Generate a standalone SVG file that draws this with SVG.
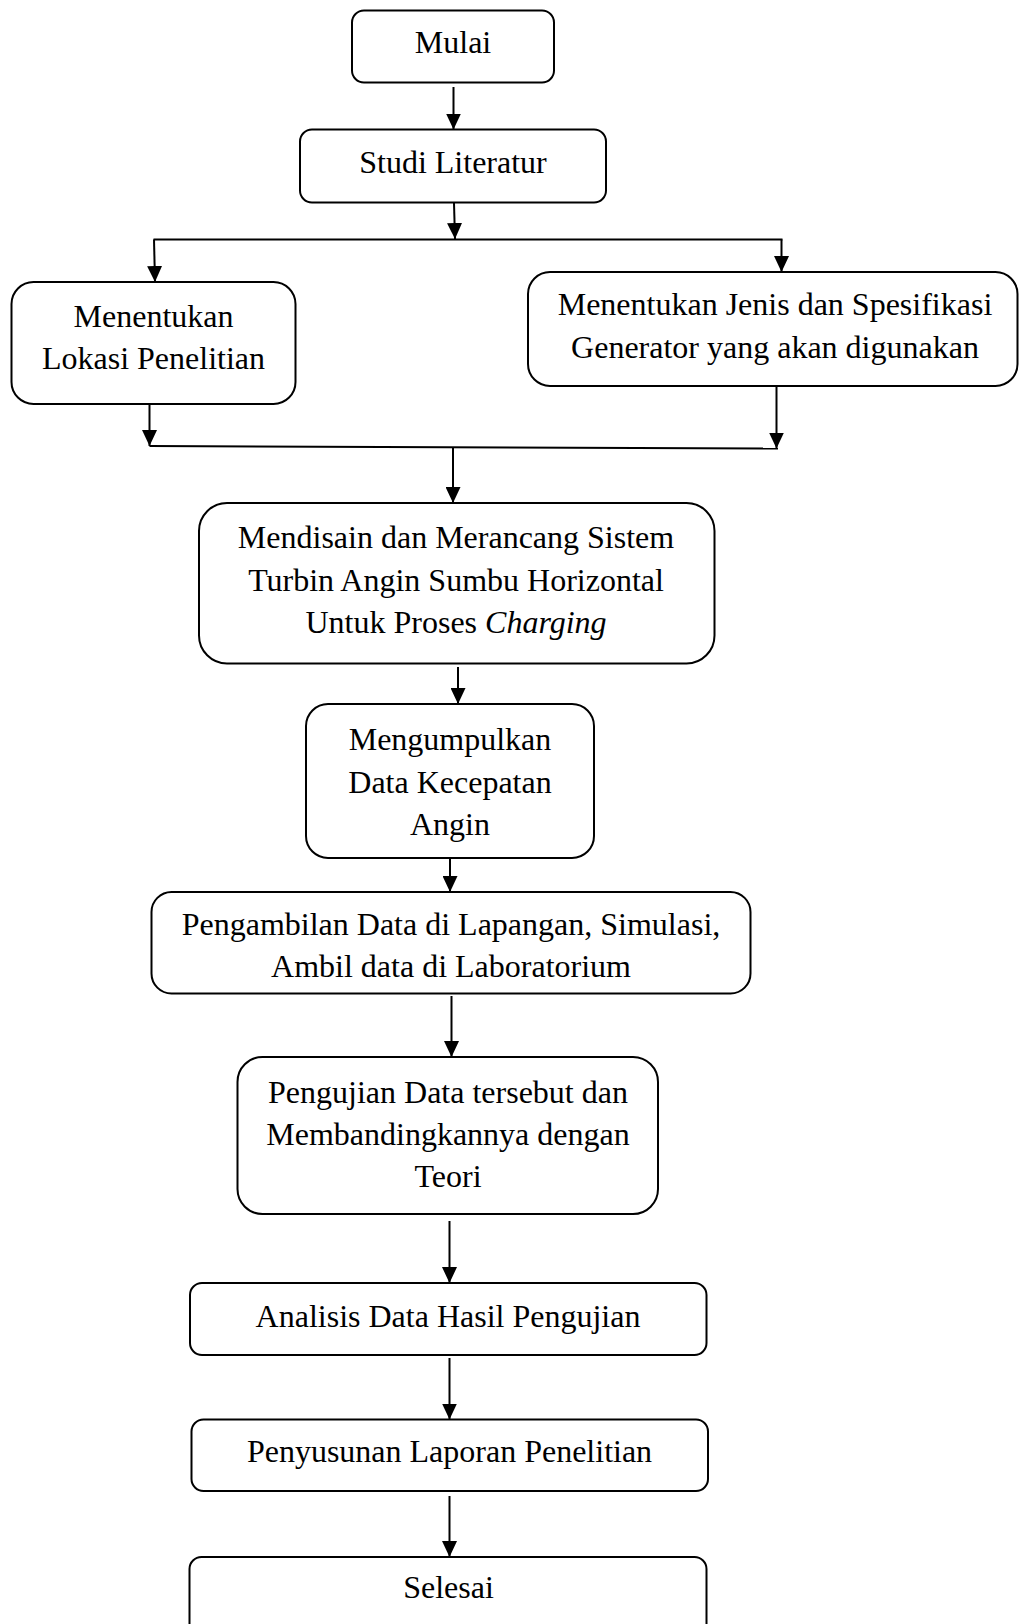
<svg xmlns="http://www.w3.org/2000/svg" width="1019" height="1624" viewBox="0 0 1019 1624">
<style>
.box{fill:#fff;stroke:#000;stroke-width:2}
.t{font-family:"Liberation Serif","Times New Roman",serif;font-size:32px;fill:#000;text-anchor:middle}
.c{fill:none;stroke:#000;stroke-width:2}
.a{marker-end:url(#ah)}
</style>
<defs>
<marker id="ah" markerUnits="userSpaceOnUse" markerWidth="16" markerHeight="15" refX="16" refY="7.5" orient="auto" viewBox="0 0 16 15">
<path d="M0,0 L16,7.5 L0,15 z" fill="#000"/>
</marker>
</defs>
<rect width="1019" height="1624" fill="#fff"/>
<g id="connectors">
<line class="c a" x1="453.5" y1="87" x2="453.5" y2="129.5"/>
<line class="c a" x1="454" y1="203" x2="455" y2="239"/>
<line class="c" x1="153.5" y1="239.5" x2="782.5" y2="239.5"/>
<line class="c a" x1="154" y1="239.5" x2="155" y2="282"/>
<line class="c a" x1="781.5" y1="239.5" x2="781.5" y2="272"/>
<line class="c a" x1="149.5" y1="404" x2="149.5" y2="446"/>
<line class="c a" x1="776.5" y1="386" x2="776.5" y2="448.5"/>
<line class="c" x1="149.5" y1="446" x2="778" y2="448.5"/>
<line class="c a" x1="453" y1="448" x2="453" y2="503"/>
<line class="c a" x1="458" y1="667" x2="458" y2="704"/>
<line class="c a" x1="450" y1="858" x2="450" y2="892"/>
<line class="c a" x1="451.5" y1="996" x2="451.5" y2="1057"/>
<line class="c a" x1="449.5" y1="1221" x2="449.5" y2="1283"/>
<line class="c a" x1="449.5" y1="1358" x2="449.5" y2="1419.5"/>
<line class="c a" x1="449.5" y1="1496" x2="449.5" y2="1557"/>
</g>
<g id="mulai">
<rect class="box" x="352" y="10.5" width="202" height="72" rx="12"/>
<text class="t" x="453" y="53">Mulai</text>
</g>
<g id="studi">
<rect class="box" x="300" y="129.5" width="306" height="73" rx="12"/>
<text class="t" x="453" y="173">Studi Literatur</text>
</g>
<g id="lokasi">
<rect class="box" x="11.5" y="282" width="284" height="122" rx="22"/>
<text class="t" x="153.5" y="327">Menentukan</text>
<text class="t" x="153.5" y="369">Lokasi Penelitian</text>
</g>
<g id="generator">
<rect class="box" x="528" y="272" width="489.5" height="114" rx="22"/>
<text class="t" x="775" y="315">Menentukan Jenis dan Spesifikasi</text>
<text class="t" x="775" y="358">Generator yang akan digunakan</text>
</g>
<g id="mendisain">
<rect class="box" x="199" y="503" width="515.5" height="160.5" rx="28"/>
<text class="t" x="456" y="548">Mendisain dan Merancang Sistem</text>
<text class="t" x="456" y="591">Turbin Angin Sumbu Horizontal</text>
<text class="t" x="456" y="633">Untuk Proses <tspan font-style="italic">Charging</tspan></text>
</g>
<g id="mengumpulkan">
<rect class="box" x="306" y="704" width="288" height="154" rx="22"/>
<text class="t" x="450" y="750">Mengumpulkan</text>
<text class="t" x="450" y="793">Data Kecepatan</text>
<text class="t" x="450" y="835">Angin</text>
</g>
<g id="pengambilan">
<rect class="box" x="151.5" y="892" width="599" height="101.5" rx="20"/>
<text class="t" x="451" y="935">Pengambilan Data di Lapangan, Simulasi,</text>
<text class="t" x="451" y="977">Ambil data di Laboratorium</text>
</g>
<g id="pengujian">
<rect class="box" x="237.5" y="1057" width="420.5" height="157" rx="25"/>
<text class="t" x="448" y="1103">Pengujian Data tersebut dan</text>
<text class="t" x="448" y="1145">Membandingkannya dengan</text>
<text class="t" x="448" y="1187">Teori</text>
</g>
<g id="analisis">
<rect class="box" x="190" y="1283" width="516.5" height="72" rx="12"/>
<text class="t" x="448" y="1327">Analisis Data Hasil Pengujian</text>
</g>
<g id="penyusunan">
<rect class="box" x="191.5" y="1419.5" width="516.5" height="71.5" rx="12"/>
<text class="t" x="449.5" y="1462">Penyusunan Laporan Penelitian</text>
</g>
<g id="selesai">
<rect class="box" x="189.5" y="1557" width="517" height="80" rx="12"/>
<text class="t" x="448.5" y="1598">Selesai</text>
</g>
</svg>
